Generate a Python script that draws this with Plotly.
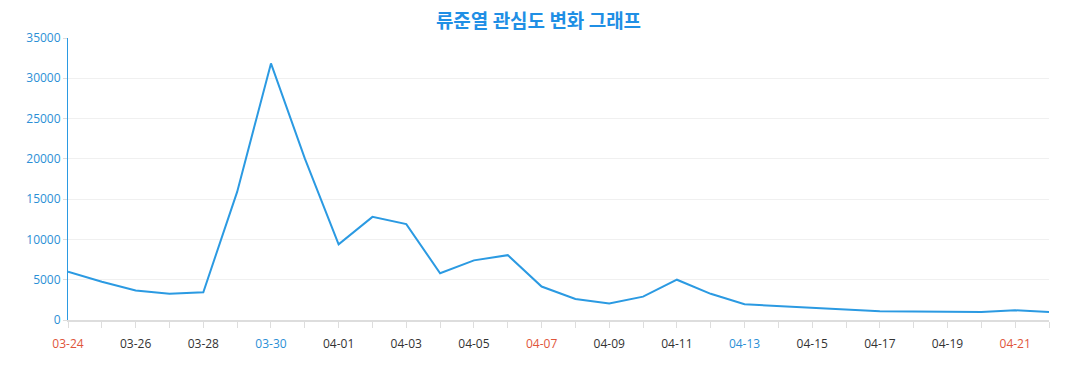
import plotly.graph_objects as go

dates = ["03-24", "03-25", "03-26", "03-27", "03-28", "03-29", "03-30", "03-31",
         "04-01", "04-02", "04-03", "04-04", "04-05", "04-06", "04-07", "04-08",
         "04-09", "04-10", "04-11", "04-12", "04-13", "04-14", "04-15", "04-16",
         "04-17", "04-18", "04-19", "04-20", "04-21", "04-22"]
values = [6000, 4750, 3650, 3250, 3450, 15900, 31850, 20050, 9400, 12800,
          11900, 5800, 7400, 8050, 4150, 2600, 2050, 2900, 5000, 3250,
          1950, 1750, 1550, 1350, 1100, 1050, 1000, 980, 1200, 1000]
sunday_labels = ["03-24", "04-07", "04-21", "03-31", "04-14"]
saturday_labels = ["03-30", "04-13", "04-06", "04-20"]

x_idx = list(range(len(dates)))
ticktext = []
for i, d in enumerate(dates):
    if i % 2 != 0:
        ticktext.append("")
    elif d in sunday_labels:
        ticktext.append(f"<span style='color:#e0553a'>{d}</span>")
    elif d in saturday_labels:
        ticktext.append(f"<span style='color:#2b8fd6'>{d}</span>")
    else:
        ticktext.append(d)

fig = go.Figure()
fig.add_trace(go.Scatter(
    x=x_idx, y=values, mode="lines",
    line=dict(color="#2b9ae2", width=2),
    hoverinfo="y",
))

fig.update_layout(
    width=1077, height=390,
    margin=dict(l=68, r=28, t=38, b=70, autoexpand=False),
    paper_bgcolor="white", plot_bgcolor="white",
    font=dict(family="Open Sans, Noto Sans CJK KR, sans-serif", size=12, color="#333333"),
    title=dict(
        text="<b>류준열 관심도 변화 그래프</b>",
        x=0.5, xanchor="center", y=0.945, yanchor="middle",
        font=dict(family="Noto Sans CJK KR, sans-serif", size=19, color="#1f8fe5"),
    ),
    showlegend=False,
)
fig.update_xaxes(
    range=[0, len(dates) - 1],
    tickmode="array", tickvals=x_idx, ticktext=ticktext,
    showgrid=False, zeroline=False,
    showline=True, linecolor="#dddddd", linewidth=2,
    ticks="outside", ticklen=6, tickcolor="#dddddd", tickwidth=1,
    tickfont=dict(size=12, color="#333333"),
    ticklabelstandoff=6,
)
fig.update_yaxes(
    range=[0, 35000], dtick=5000, tickformat="d",
    showgrid=True, gridcolor="#f0f0f0", gridwidth=1,
    zeroline=False,
    showline=True, linecolor="#2b9ae2", linewidth=1,
    ticks="outside", ticklen=4, tickcolor="#dddddd",
    tickfont=dict(size=12, color="#2b8fd6"),
)

fig.write_html("out.html", config={"displayModeBar": False},
               post_script="document.body.style.margin='0';")
